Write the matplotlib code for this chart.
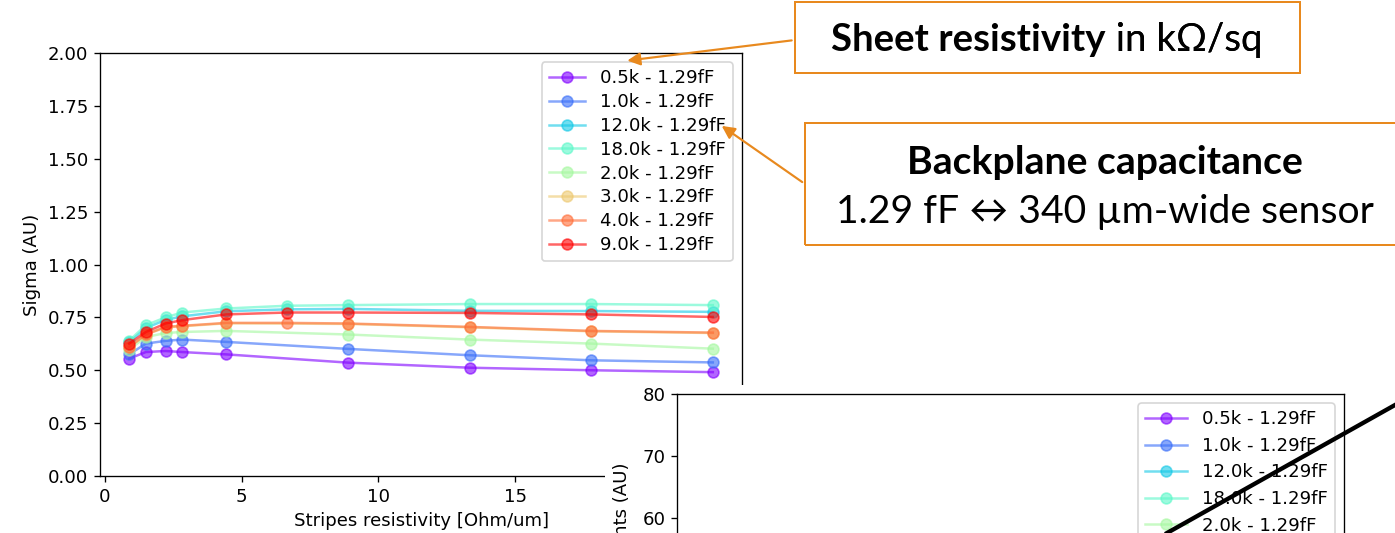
#!/usr/bin/env python3

import matplotlib
matplotlib.use("Agg")
import matplotlib.pyplot as plt
from matplotlib.patches import Rectangle, FancyArrowPatch
from matplotlib.lines import Line2D
from matplotlib.transforms import Bbox, TransformedBbox

W, H, DPI = 1395, 533, 120

# stripes resistivity [Ohm/um] at which each sheet resistivity was simulated
x_short = [0.89, 1.5, 2.22, 2.83, 4.44, 8.89, 13.33, 17.78, 22.22]
x_long = [0.89, 1.5, 2.22, 2.83, 4.44, 6.67, 8.89, 13.33, 17.78, 22.22]

labels = ["0.5k - 1.29fF", "1.0k - 1.29fF", "12.0k - 1.29fF", "18.0k - 1.29fF",
          "2.0k - 1.29fF", "3.0k - 1.29fF", "4.0k - 1.29fF", "9.0k - 1.29fF"]

sig_05k = [0.555, 0.586, 0.591, 0.586, 0.575, 0.536, 0.512, 0.500, 0.491]
sig_1k = [0.575, 0.626, 0.639, 0.645, 0.634, 0.601, 0.571, 0.547, 0.537]
sig_12k = [0.633, 0.700, 0.738, 0.755, 0.779, 0.788, 0.790, 0.781, 0.780, 0.776]
sig_18k = [0.640, 0.713, 0.750, 0.773, 0.792, 0.805, 0.808, 0.813, 0.813, 0.808]
sig_2k = [0.598, 0.657, 0.676, 0.681, 0.686, 0.669, 0.645, 0.626, 0.602]
sig_3k = [0.608, 0.668, 0.703, 0.708, 0.722, 0.719, 0.703, 0.684, 0.676]
sig_4k = [0.610, 0.670, 0.705, 0.710, 0.724, 0.724, 0.721, 0.705, 0.686, 0.678]
sig_9k = [0.626, 0.681, 0.721, 0.737, 0.764, 0.773, 0.773, 0.771, 0.764, 0.752]

series = [(x_short, sig_05k), (x_short, sig_1k), (x_long, sig_12k), (x_long, sig_18k),
          (x_short, sig_2k), (x_short, sig_3k), (x_long, sig_4k), (x_long, sig_9k)]

ORANGE = "#E8891E"
CALLOUT_FONT = ["Lato", "DejaVu Sans"]

plt.rcParams["font.size"] = 10.9


def fx(x):
    return x / W


def fy(y):
    return 1 - y / H


def colors(n):
    cmap = plt.get_cmap("rainbow")
    return [cmap(i / (n - 1)) for i in range(n)]


def plot_sigma(fig):
    ax = fig.add_axes([fx(100), fy(476), (742 - 100) / W, (476 - 53) / H])
    for (xs, ys), lab, c in zip(series, labels, colors(len(labels))):
        ax.plot(xs, ys, marker="o", markersize=6.5, color=c, alpha=0.6, label=lab)
    ax.set_ylim(0, 2)
    ax.set_xlabel("Stripes resistivity [Ohm/um]")
    ax.set_ylabel("Sigma (AU)")
    ax.legend(loc="upper right", handlelength=2.0, labelspacing=0.32)
    return ax


def plot_counts(fig):
    # second plot pasted on top of the first, mostly out of the slide
    cover = Rectangle((fx(605), 0), 1 - fx(605), fy(385), transform=fig.transFigure,
                      facecolor="white", edgecolor="none", zorder=1)
    fig.add_artist(cover)

    ax2 = fig.add_axes([fx(677), fy(642), (1344 - 677) / W, (642 - 394) / H])
    ax2.set_zorder(2)
    for lab, c in zip(labels, colors(len(labels))):
        ax2.plot([], [], marker="o", markersize=6.5, color=c, alpha=0.6, label=lab)
    ax2.set_ylim(40, 80)
    ax2.set_xlim(0, 23)
    ax2.tick_params(axis="x", labelbottom=False)
    ax2.set_ylabel("Counts (AU)")
    ax2.yaxis.set_label_coords(fx(631), fy(517), transform=fig.transFigure)
    clip = TransformedBbox(Bbox.from_extents(fx(605), 0, 1, fy(385)), fig.transFigure)
    ax2.yaxis.label.set_clip_box(clip)
    ax2.yaxis.label.set_clip_on(True)
    ax2.legend(loc="upper right", handlelength=2.3, labelspacing=0.47)

    fig.add_artist(Line2D([fx(1395), fx(1167)], [fy(405), fy(533)], color="black",
                          lw=2.6, transform=fig.transFigure, zorder=4))


def callouts(fig):
    fs = 23.5
    box1 = Rectangle((fx(795), fy(73)), (1300 - 795) / W, (73 - 2) / H, fill=False,
                     edgecolor=ORANGE, lw=1.2, transform=fig.transFigure, zorder=3)
    box2 = Rectangle((fx(805), fy(245)), (1400 - 805) / W, (245 - 123) / H, fill=False,
                     edgecolor=ORANGE, lw=1.2, transform=fig.transFigure, zorder=3)
    fig.add_artist(box1)
    fig.add_artist(box2)

    t1 = fig.text(fx(831), fy(40), "Sheet resistivity", fontsize=23, weight="bold",
                  family=CALLOUT_FONT, ha="left", va="center")
    ann = plt.annotate(" in k\u03a9/sq", xy=(1, 0.5), xycoords=t1, fontsize=23,
                       family=CALLOUT_FONT, ha="left", va="center",
                       annotation_clip=False)
    fig.texts.append(ann)

    fig.text(fx(1105), fy(163), "Backplane capacitance", fontsize=fs, weight="bold",
             family=CALLOUT_FONT, ha="center", va="center")
    fig.text(fx(1105), fy(212), "1.29 fF \u2194 340 \u00b5m-wide sensor", fontsize=fs,
             family=CALLOUT_FONT, ha="center", va="center")

    for tail, head in [((795, 40), (624, 61)), ((805, 184), (719, 124))]:
        arr = FancyArrowPatch((fx(tail[0]), fy(tail[1])), (fx(head[0]), fy(head[1])),
                              transform=fig.transFigure, arrowstyle="-|>",
                              mutation_scale=16, color=ORANGE, lw=1.3, zorder=3)
        fig.add_artist(arr)


def main():
    fig = plt.figure(figsize=(W / DPI, H / DPI), dpi=DPI)
    fig.patch.set_facecolor("white")
    plot_sigma(fig)
    plot_counts(fig)
    callouts(fig)
    fig.savefig("out.png", dpi=DPI)
    plt.close(fig)


if __name__ == "__main__":
    main()
